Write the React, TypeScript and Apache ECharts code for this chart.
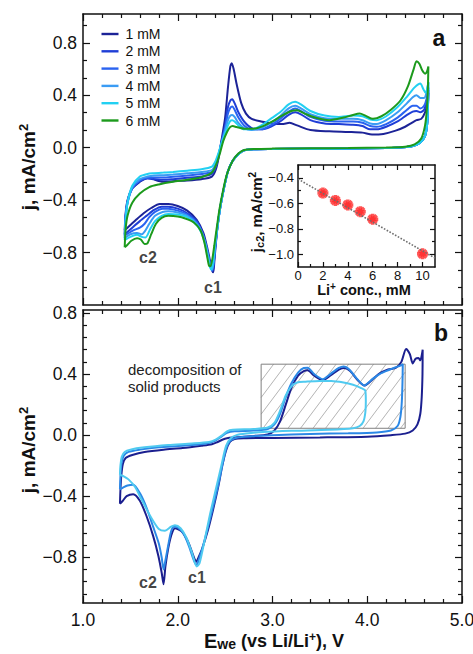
import React, { useEffect, useRef } from 'react';
import * as echarts from 'echarts';

// ---------- Panel a: CV curves at increasing Li+ concentration (E / V vs Li/Li+, j / mA cm^-2)
const concLabels = ['1 mM', '2 mM', '3 mM', '4 mM', '5 mM', '6 mM'];
const concColors = ['#1c2397', '#1f3ed6', '#2a63f0', '#3a9cf4', '#22d0f2', '#1c9a1c'];

const a1Anodic = [[1.44,-0.63],[1.45,-0.5],[1.47,-0.4],[1.52,-0.31],[1.6,-0.26],[1.66,-0.235],[1.71,-0.225],[1.76,-0.245],[1.85,-0.26],[1.95,-0.255],[2.1,-0.25],[2.25,-0.24],[2.36,-0.22],[2.4,-0.17],[2.43,-0.08],[2.46,0.05],[2.5,0.23],[2.53,0.46],[2.555,0.62],[2.57,0.645],[2.59,0.6],[2.62,0.49],[2.67,0.34],[2.72,0.26],[2.78,0.22],[2.88,0.2],[3.0,0.185],[3.1,0.18],[3.18,0.19],[3.26,0.17],[3.4,0.135],[3.6,0.125],[3.8,0.12],[3.95,0.115],[4.05,0.1],[4.17,0.105],[4.3,0.13],[4.4,0.16],[4.47,0.19],[4.52,0.21],[4.57,0.22],[4.61,0.27],[4.63,0.33],[4.645,0.42]];
const a2Anodic = [[1.44,-0.66],[1.45,-0.52],[1.47,-0.41],[1.52,-0.31],[1.6,-0.255],[1.68,-0.235],[1.75,-0.24],[1.85,-0.245],[1.95,-0.24],[2.1,-0.23],[2.25,-0.22],[2.36,-0.2],[2.4,-0.15],[2.43,-0.07],[2.46,0.04],[2.5,0.17],[2.53,0.31],[2.555,0.36],[2.575,0.37],[2.6,0.34],[2.64,0.27],[2.7,0.2],[2.78,0.15],[2.88,0.14],[2.98,0.16],[3.08,0.2],[3.17,0.25],[3.24,0.27],[3.3,0.255],[3.4,0.21],[3.55,0.185],[3.7,0.18],[3.85,0.175],[3.95,0.165],[4.03,0.14],[4.1,0.14],[4.2,0.16],[4.32,0.2],[4.42,0.25],[4.48,0.275],[4.52,0.28],[4.56,0.27],[4.6,0.29],[4.625,0.35],[4.645,0.44]];
const a3Anodic = [[1.44,-0.67],[1.45,-0.53],[1.47,-0.42],[1.52,-0.31],[1.6,-0.25],[1.68,-0.23],[1.75,-0.228],[1.85,-0.228],[1.95,-0.222],[2.1,-0.212],[2.25,-0.2],[2.36,-0.185],[2.4,-0.14],[2.43,-0.06],[2.46,0.03],[2.5,0.15],[2.53,0.26],[2.555,0.305],[2.575,0.315],[2.6,0.29],[2.64,0.23],[2.7,0.17],[2.78,0.14],[2.88,0.14],[2.98,0.17],[3.08,0.22],[3.17,0.275],[3.24,0.3],[3.3,0.28],[3.4,0.235],[3.55,0.205],[3.7,0.2],[3.85,0.2],[3.95,0.19],[4.03,0.165],[4.1,0.16],[4.2,0.18],[4.32,0.23],[4.42,0.29],[4.48,0.32],[4.52,0.32],[4.56,0.3],[4.6,0.32],[4.625,0.37],[4.645,0.46]];
const a4Anodic = [[1.44,-0.69],[1.45,-0.54],[1.47,-0.42],[1.52,-0.3],[1.6,-0.24],[1.68,-0.22],[1.75,-0.212],[1.85,-0.21],[1.95,-0.205],[2.1,-0.195],[2.25,-0.185],[2.36,-0.17],[2.4,-0.12],[2.43,-0.05],[2.46,0.03],[2.5,0.13],[2.53,0.21],[2.555,0.245],[2.575,0.25],[2.6,0.235],[2.64,0.19],[2.7,0.15],[2.78,0.135],[2.88,0.15],[2.98,0.19],[3.08,0.24],[3.17,0.3],[3.24,0.32],[3.3,0.3],[3.4,0.255],[3.55,0.225],[3.7,0.22],[3.85,0.22],[3.95,0.21],[4.03,0.185],[4.1,0.18],[4.2,0.21],[4.32,0.27],[4.42,0.34],[4.48,0.385],[4.52,0.4],[4.56,0.38],[4.6,0.38],[4.625,0.42],[4.645,0.5]];
const a5Anodic = [[1.44,-0.705],[1.45,-0.55],[1.47,-0.42],[1.52,-0.29],[1.6,-0.22],[1.68,-0.2],[1.75,-0.195],[1.85,-0.19],[1.95,-0.185],[2.1,-0.175],[2.25,-0.165],[2.36,-0.145],[2.4,-0.1],[2.43,-0.04],[2.46,0.03],[2.5,0.11],[2.53,0.17],[2.555,0.205],[2.575,0.21],[2.6,0.2],[2.64,0.17],[2.7,0.14],[2.78,0.14],[2.88,0.17],[2.98,0.22],[3.08,0.27],[3.17,0.33],[3.24,0.35],[3.3,0.33],[3.4,0.28],[3.55,0.245],[3.7,0.235],[3.85,0.245],[3.95,0.24],[4.03,0.215],[4.1,0.21],[4.2,0.24],[4.32,0.31],[4.42,0.39],[4.5,0.46],[4.56,0.49],[4.59,0.45],[4.615,0.42],[4.63,0.44],[4.645,0.5]];
const a6Anodic = [[1.44,-0.76],[1.45,-0.62],[1.47,-0.52],[1.52,-0.42],[1.6,-0.35],[1.7,-0.3],[1.8,-0.28],[1.95,-0.26],[2.1,-0.245],[2.25,-0.225],[2.36,-0.19],[2.41,-0.12],[2.45,-0.03],[2.48,0.05],[2.52,0.12],[2.55,0.155],[2.58,0.165],[2.62,0.158],[2.7,0.145],[2.8,0.145],[2.9,0.165],[3.0,0.2],[3.1,0.245],[3.2,0.28],[3.26,0.285],[3.34,0.26],[3.45,0.23],[3.6,0.21],[3.75,0.23],[3.85,0.25],[3.92,0.26],[3.98,0.245],[4.06,0.22],[4.15,0.24],[4.25,0.29],[4.35,0.36],[4.43,0.47],[4.49,0.6],[4.52,0.66],[4.55,0.64],[4.58,0.59],[4.61,0.565],[4.63,0.58],[4.645,0.62]];

// return sweep from the upper vertex (shared by 1-5 mM down to the c1 onset)
const aReturnBlue = [[4.64,0.3],[4.632,0.18],[4.61,0.09],[4.56,0.04],[4.49,0.015],[4.38,0.003],[4.2,-0.003],[3.8,-0.006],[3.4,-0.008],[3.0,-0.01],[2.8,-0.012],[2.7,-0.02],[2.64,-0.05],[2.58,-0.1],[2.53,-0.18],[2.49,-0.3],[2.45,-0.45],[2.42,-0.6]];
const a1Tail = [[2.4,-0.75],[2.385,-0.88],[2.375,-0.95],[2.36,-0.93],[2.34,-0.86],[2.31,-0.76],[2.27,-0.65],[2.2,-0.55],[2.1,-0.48],[2.0,-0.445],[1.9,-0.43],[1.81,-0.43],[1.72,-0.46],[1.64,-0.5],[1.56,-0.55],[1.5,-0.59],[1.44,-0.63]];
const a2Tail = [[2.398,-0.75],[2.382,-0.87],[2.368,-0.94],[2.352,-0.92],[2.33,-0.85],[2.3,-0.75],[2.26,-0.65],[2.2,-0.56],[2.1,-0.5],[2.0,-0.465],[1.9,-0.45],[1.83,-0.45],[1.75,-0.475],[1.67,-0.52],[1.6,-0.56],[1.52,-0.61],[1.44,-0.66]];
const a3Tail = [[2.396,-0.75],[2.38,-0.87],[2.365,-0.935],[2.35,-0.915],[2.33,-0.85],[2.3,-0.75],[2.26,-0.65],[2.2,-0.57],[2.1,-0.51],[2.0,-0.48],[1.9,-0.465],[1.84,-0.465],[1.76,-0.49],[1.7,-0.53],[1.65,-0.58],[1.6,-0.61],[1.53,-0.63],[1.44,-0.67]];
const a4Tail = [[2.394,-0.75],[2.378,-0.87],[2.36,-0.93],[2.345,-0.91],[2.325,-0.84],[2.295,-0.74],[2.255,-0.65],[2.2,-0.58],[2.1,-0.52],[2.0,-0.495],[1.9,-0.485],[1.84,-0.49],[1.76,-0.52],[1.7,-0.58],[1.65,-0.64],[1.62,-0.66],[1.57,-0.65],[1.5,-0.66],[1.44,-0.69]];
const a5Tail = [[2.392,-0.75],[2.375,-0.87],[2.355,-0.93],[2.34,-0.91],[2.32,-0.84],[2.29,-0.74],[2.25,-0.65],[2.2,-0.59],[2.1,-0.53],[2.0,-0.51],[1.9,-0.505],[1.83,-0.52],[1.76,-0.56],[1.71,-0.62],[1.66,-0.685],[1.62,-0.68],[1.57,-0.665],[1.5,-0.68],[1.44,-0.705]];
const a6Return = [[4.64,0.45],[4.63,0.3],[4.61,0.17],[4.57,0.07],[4.5,0.025],[4.4,0.008],[4.2,0.002],[3.8,-0.003],[3.4,-0.005],[3.0,-0.007],[2.8,-0.01],[2.7,-0.018],[2.64,-0.045],[2.58,-0.1],[2.52,-0.2],[2.48,-0.32],[2.44,-0.47],[2.41,-0.62],[2.385,-0.75],[2.365,-0.85],[2.345,-0.905],[2.33,-0.9],[2.31,-0.83],[2.28,-0.72],[2.24,-0.63],[2.17,-0.57],[2.08,-0.54],[2.0,-0.525],[1.9,-0.52],[1.83,-0.535],[1.77,-0.58],[1.72,-0.66],[1.68,-0.73],[1.65,-0.735],[1.61,-0.7],[1.57,-0.69],[1.51,-0.71],[1.47,-0.74],[1.44,-0.76]];

// ---------- Panel b: three CVs with different upper vertex potentials
const bLabels = ['to 4.6 V', 'to 4.4 V', 'to 4.0 V'];
const bColors = ['#1b1f8f', '#2b88e6', '#4fcaf0'];
const bNavy = [[1.39,-0.45],[1.395,-0.36],[1.405,-0.26],[1.42,-0.19],[1.45,-0.15],[1.52,-0.13],[1.65,-0.11],[1.85,-0.095],[2.05,-0.085],[2.25,-0.07],[2.36,-0.06],[2.42,-0.045],[2.47,-0.03],[2.52,-0.02],[2.6,-0.015],[2.8,-0.005],[2.95,0.005],[3.02,0.03],[3.08,0.09],[3.14,0.2],[3.2,0.31],[3.27,0.39],[3.33,0.42],[3.37,0.425],[3.44,0.39],[3.53,0.36],[3.62,0.395],[3.7,0.43],[3.76,0.44],[3.82,0.42],[3.9,0.36],[3.97,0.325],[4.03,0.35],[4.12,0.4],[4.22,0.43],[4.3,0.44],[4.36,0.48],[4.41,0.565],[4.45,0.53],[4.48,0.47],[4.51,0.5],[4.54,0.505],[4.56,0.49],[4.585,0.56],
  [4.583,0.4],[4.575,0.25],[4.56,0.14],[4.53,0.07],[4.48,0.03],[4.4,0.01],[4.25,0.0],[4.0,-0.01],[3.5,-0.015],[3.0,-0.018],[2.7,-0.02],[2.6,-0.025],[2.55,-0.045],[2.51,-0.1],[2.47,-0.2],[2.43,-0.33],[2.38,-0.47],[2.32,-0.62],[2.26,-0.74],[2.22,-0.8],[2.195,-0.83],[2.17,-0.8],[2.11,-0.7],[2.04,-0.63],[1.97,-0.61],[1.93,-0.66],[1.9,-0.74],[1.87,-0.86],[1.85,-0.977],[1.83,-0.9],[1.795,-0.79],[1.74,-0.66],[1.67,-0.53],[1.6,-0.43],[1.53,-0.387],[1.46,-0.4],[1.42,-0.43],[1.39,-0.45]];
const bBlue = [[1.39,-0.355],[1.395,-0.27],[1.405,-0.19],[1.43,-0.135],[1.48,-0.11],[1.6,-0.095],[1.8,-0.08],[2.05,-0.07],[2.3,-0.055],[2.4,-0.035],[2.46,-0.01],[2.52,0.015],[2.6,0.025],[2.8,0.03],[2.95,0.04],[3.02,0.07],[3.08,0.14],[3.14,0.25],[3.2,0.34],[3.27,0.41],[3.33,0.44],[3.37,0.442],[3.44,0.4],[3.53,0.367],[3.62,0.405],[3.7,0.44],[3.75,0.45],[3.81,0.43],[3.89,0.37],[3.97,0.325],[4.04,0.36],[4.13,0.4],[4.22,0.425],[4.3,0.445],[4.35,0.455],[4.375,0.465],
  [4.372,0.35],[4.365,0.22],[4.35,0.12],[4.32,0.06],[4.25,0.03],[4.1,0.018],[3.8,0.012],[3.4,0.008],[3.0,0.0],[2.7,-0.01],[2.6,-0.02],[2.55,-0.04],[2.51,-0.09],[2.47,-0.2],[2.43,-0.32],[2.38,-0.45],[2.32,-0.6],[2.26,-0.74],[2.22,-0.82],[2.2,-0.85],[2.17,-0.82],[2.12,-0.73],[2.06,-0.645],[2.0,-0.605],[1.96,-0.6],[1.93,-0.63],[1.9,-0.72],[1.87,-0.82],[1.85,-0.88],[1.83,-0.8],[1.8,-0.71],[1.74,-0.6],[1.67,-0.475],[1.6,-0.38],[1.53,-0.325],[1.47,-0.33],[1.42,-0.345],[1.39,-0.355]];
const bCyan = [[1.39,-0.26],[1.395,-0.2],[1.41,-0.14],[1.44,-0.11],[1.5,-0.095],[1.65,-0.08],[1.9,-0.065],[2.15,-0.055],[2.33,-0.045],[2.4,-0.03],[2.46,-0.005],[2.52,0.025],[2.58,0.035],[2.8,0.04],[2.95,0.05],[3.02,0.08],[3.08,0.16],[3.14,0.26],[3.2,0.32],[3.26,0.345],[3.35,0.35],[3.5,0.355],[3.62,0.355],[3.75,0.345],[3.85,0.33],[3.93,0.31],[3.98,0.29],
  [3.985,0.22],[3.98,0.15],[3.96,0.09],[3.92,0.06],[3.85,0.045],[3.6,0.035],[3.2,0.028],[2.9,0.02],[2.72,0.01],[2.62,0.0],[2.56,-0.02],[2.51,-0.07],[2.46,-0.2],[2.4,-0.36],[2.34,-0.52],[2.28,-0.7],[2.23,-0.84],[2.2,-0.86],[2.15,-0.77],[2.09,-0.67],[2.03,-0.61],[1.97,-0.59],[1.93,-0.6],[1.865,-0.627],[1.8,-0.615],[1.71,-0.53],[1.6,-0.4],[1.55,-0.34],[1.48,-0.29],[1.43,-0.27],[1.39,-0.26]];
const decompBox = [2.88, 0.045, 4.4, 0.465];

// ---------- Inset: c2 peak current vs Li+ concentration
const insetConc = [2, 3, 4, 5, 6, 10];
const insetJc2 = [-0.52, -0.578, -0.613, -0.666, -0.725, -0.997];
const insetFit = [[0, -0.41], [11, -1.03]];

// ---------- Tick labels
const eTicks = [1, 2, 3, 4, 5];
const jTicksA = [-0.8, -0.4, 0, 0.4, 0.8];
const jTicksB = [-0.8, -0.4, 0, 0.4, 0.8];
const insetXTicks = [0, 2, 4, 6, 8, 10];
const insetYTicks = [-1.0, -0.8, -0.6, -0.4];

const peakTagsA = [{ name: 'c2', value: [1.686, -0.84] }, { name: 'c1', value: [2.372, -1.07] }];
const peakTagsB = [{ name: 'c2', value: [1.686, -0.966] }, { name: 'c1', value: [2.203, -0.933] }];

const FONT = "'Liberation Sans', Arial, Helvetica, sans-serif";
const INK = '#111111';

function seq(a: number, b: number, step: number) {
  const out: number[] = [];
  const n = Math.round((b - a) / step);
  for (let i = 0; i <= n; i++) out.push(+(a + i * step).toFixed(6));
  return out;
}
function minorOf(all: number[], majors: number[], lo: number, hi: number) {
  return all.filter((v) => v > lo + 1e-6 && v < hi - 1e-6 && !majors.some((m) => Math.abs(m - v) < 1e-6));
}
function fmt(v: number, d: number) {
  const s = Math.abs(v) < 1e-9 ? (0).toFixed(d) : v.toFixed(d);
  return s.replace('-', '\u2212');
}

type Spec = {
  grid: number; xr: [number, number]; yr: [number, number];
  xMajor: number[]; xMinor: number[]; yMajor: number[]; yMinor: number[];
  xLabels: boolean; yLabels: boolean; xDec: number; yDec: number;
  majLen: number; minLen: number; font: number; xMargin: number; yMargin: number;
};

function buildFrame(s: Spec, xAxes: any[], yAxes: any[]) {
  const xi = xAxes.length;
  const yi = yAxes.length;
  const line = { color: INK, width: 1.5 };
  const tl = { color: INK, width: 1.2 };
  const lab = (show: boolean, vals: number[], dec: number, margin: number) =>
    show
      ? { show: true, customValues: vals, formatter: (v: number) => fmt(v, dec), margin, fontSize: s.font, fontFamily: FONT, color: INK }
      : { show: false };
  (['bottom', 'top'] as const).forEach((pos) => {
    const base = { gridIndex: s.grid, type: 'value', position: pos, min: s.xr[0], max: s.xr[1], splitLine: { show: false } };
    xAxes.push({ ...base, axisLine: { show: true, onZero: false, lineStyle: line },
      axisTick: { show: true, inside: true, length: s.majLen, customValues: s.xMajor, lineStyle: tl },
      axisLabel: lab(pos === 'bottom' && s.xLabels, s.xMajor, s.xDec, s.xMargin) });
    xAxes.push({ ...base, axisLine: { show: false, onZero: false },
      axisTick: { show: true, inside: true, length: s.minLen, customValues: s.xMinor, lineStyle: tl },
      axisLabel: { show: false } });
  });
  (['left', 'right'] as const).forEach((pos) => {
    const base = { gridIndex: s.grid, type: 'value', position: pos, min: s.yr[0], max: s.yr[1], splitLine: { show: false } };
    yAxes.push({ ...base, axisLine: { show: true, onZero: false, lineStyle: line },
      axisTick: { show: true, inside: true, length: s.majLen, customValues: s.yMajor, lineStyle: tl },
      axisLabel: lab(pos === 'left' && s.yLabels, s.yMajor, s.yDec, s.yMargin) });
    yAxes.push({ ...base, axisLine: { show: false, onZero: false },
      axisTick: { show: true, inside: true, length: s.minLen, customValues: s.yMinor, lineStyle: tl },
      axisLabel: { show: false } });
  });
  return { xi, yi };
}

function buildOption() {
  const xAxes: any[] = [];
  const yAxes: any[] = [];
  const xMinorMain = minorOf(seq(1, 5, 0.2), eTicks, 1, 5);
  const A = buildFrame({
    grid: 0, xr: [1, 5], yr: [-1.2, 1.02], xMajor: eTicks, xMinor: xMinorMain,
    yMajor: jTicksA, yMinor: minorOf(seq(-1.2, 1.2, 0.4 / 3), jTicksA, -1.2, 1.02),
    xLabels: false, yLabels: true, xDec: 1, yDec: 1, majLen: 7, minLen: 4, font: 17.5, xMargin: 8, yMargin: 6,
  }, xAxes, yAxes);
  const B = buildFrame({
    grid: 1, xr: [1, 5], yr: [-1.1, 0.82], xMajor: eTicks, xMinor: xMinorMain,
    yMajor: jTicksB, yMinor: minorOf(seq(-1.2, 0.8, 0.08), jTicksB, -1.1, 0.82),
    xLabels: true, yLabels: true, xDec: 1, yDec: 1, majLen: 7, minLen: 4, font: 17.5, xMargin: 8, yMargin: 6,
  }, xAxes, yAxes);
  const I = buildFrame({
    grid: 2, xr: [0, 11], yr: [-1.1, -0.3], xMajor: insetXTicks, xMinor: [1, 3, 5, 7, 9],
    yMajor: insetYTicks, yMinor: [-0.9, -0.7, -0.5],
    xLabels: true, yLabels: true, xDec: 0, yDec: 1, majLen: 5, minLen: 3, font: 13, xMargin: 2, yMargin: 4,
  }, xAxes, yAxes);

  const aCurves = [
    [...a1Anodic, ...aReturnBlue, ...a1Tail],
    [...a2Anodic, ...aReturnBlue, ...a2Tail],
    [...a3Anodic, ...aReturnBlue, ...a3Tail],
    [...a4Anodic, ...aReturnBlue, ...a4Tail],
    [...a5Anodic, ...aReturnBlue, ...a5Tail],
    [...a6Anodic, ...a6Return],
  ];
  const bCurves = [bNavy, bBlue, bCyan];

  const tagSeries = (ax: { xi: number; yi: number }, data: any[]) => ({
    type: 'scatter', xAxisIndex: ax.xi, yAxisIndex: ax.yi, data, symbolSize: 1, silent: true, z: 5,
    itemStyle: { color: 'rgba(0,0,0,0)' },
    label: { show: true, position: 'inside', formatter: '{b}', fontSize: 16, fontWeight: 'bold', fontFamily: FONT, color: INK },
  });

  const plusPath = 'path://M-1.6,-5H1.6V-1.6H5V1.6H1.6V5H-1.6V1.6H-5V-1.6H-1.6Z';
  const insetPts = insetConc.map((c, i) => [c, insetJc2[i]]);

  const series: any[] = [
    {
      type: 'custom', xAxisIndex: B.xi, yAxisIndex: B.yi, silent: true, z: 1,
      data: [decompBox], encode: { x: [0, 2], y: [1, 3] },
      renderItem: (_p: any, api: any) => {
        const tl = api.coord([api.value(0), api.value(3)]);
        const br = api.coord([api.value(2), api.value(1)]);
        const x0 = tl[0], y0 = tl[1], x1 = br[0], y1 = br[1];
        const h = y1 - y0;
        const dx = h * 0.75;
        const gap = 12.5;
        const children: any[] = [];
        for (let xs = x0 - dx; xs < x1; xs += gap) {
          const ta = Math.max(0, (x0 - xs) / dx);
          const tb = Math.min(1, (x1 - xs) / dx);
          if (tb <= ta) continue;
          children.push({ type: 'line', shape: { x1: xs + ta * dx, y1: y1 - ta * h, x2: xs + tb * dx, y2: y1 - tb * h },
            style: { stroke: '#b4b4b4', lineWidth: 1 } });
        }
        children.push({ type: 'rect', shape: { x: x0, y: y0, width: x1 - x0, height: h },
          style: { fill: 'rgba(0,0,0,0)', stroke: '#808080', lineWidth: 1 } });
        return { type: 'group', children };
      },
    },
    ...aCurves.map((d, i) => ({
      type: 'line', name: concLabels[i], xAxisIndex: A.xi, yAxisIndex: A.yi, data: d, symbol: 'none',
      smooth: 0.25, silent: true, z: 3, lineStyle: { width: 2, color: concColors[i] }, itemStyle: { color: concColors[i] },
    })),
    ...bCurves.map((d, i) => ({
      type: 'line', name: bLabels[i], xAxisIndex: B.xi, yAxisIndex: B.yi, data: d, symbol: 'none',
      smooth: 0.25, silent: true, z: 3, lineStyle: { width: 2, color: bColors[i] }, itemStyle: { color: bColors[i] },
    })),
    tagSeries(A, peakTagsA),
    tagSeries(B, peakTagsB),
    {
      type: 'line', xAxisIndex: I.xi, yAxisIndex: I.yi, data: insetFit, symbol: 'none', silent: true,
      lineStyle: { type: 'dotted', color: '#6e6e6e', width: 1.6 },
    },
    { type: 'scatter', xAxisIndex: I.xi, yAxisIndex: I.yi, data: insetPts, symbol: plusPath, symbolSize: 11, silent: true, itemStyle: { color: '#ff2a2a' } },
    { type: 'scatter', xAxisIndex: I.xi, yAxisIndex: I.yi, data: insetPts, symbol: plusPath, symbolSize: 11, symbolRotate: 45, silent: true, itemStyle: { color: '#ff2a2a' } },
  ];

  const bold = (size: number, extra: any = {}) => ({ fontSize: size, fontWeight: 'bold', fontFamily: FONT, fill: INK, ...extra });

  const graphic: any[] = [
    { type: 'text', x: 439, y: 38, style: { text: 'a', ...bold(23), align: 'center', verticalAlign: 'middle' } },
    { type: 'text', x: 441, y: 333, style: { text: 'b', ...bold(23), align: 'center', verticalAlign: 'middle' } },
    { type: 'text', x: 128, y: 360.5, style: { text: 'decomposition of\nsolid products', fontSize: 15, fontFamily: FONT, fill: '#222', lineHeight: 17, align: 'left', verticalAlign: 'top' } },
    {
      type: 'text', x: 28, y: 167, rotation: Math.PI / 2,
      style: { text: '{t|j, mA/cm}{s|2}', align: 'center', verticalAlign: 'middle', fill: INK,
        rich: { t: bold(19, { lineHeight: 22 }), s: bold(13, { lineHeight: 11, verticalAlign: 'top' }) } },
    },
    {
      type: 'text', x: 28, y: 450, rotation: Math.PI / 2,
      style: { text: '{t|j, mA/cm}{s|2}', align: 'center', verticalAlign: 'middle', fill: INK,
        rich: { t: bold(19, { lineHeight: 22 }), s: bold(13, { lineHeight: 11, verticalAlign: 'top' }) } },
    },
    {
      type: 'text', x: 274, y: 641,
      style: { text: '{e|E}{w|we}{t| (vs Li/Li}{s|+}{t|), V}', align: 'center', verticalAlign: 'middle', fill: INK,
        rich: {
          e: bold(20, { lineHeight: 20 }), w: bold(14, { lineHeight: 8, verticalAlign: 'bottom' }),
          t: bold(18, { lineHeight: 20 }), s: bold(12, { lineHeight: 8, verticalAlign: 'top' }),
        } },
    },
    {
      type: 'text', x: 364, y: 289.5,
      style: { text: '{t|Li}{s|+}{t| conc., mM}', align: 'center', verticalAlign: 'middle', fill: INK,
        rich: { t: bold(14.5, { lineHeight: 16 }), s: bold(10, { lineHeight: 7, verticalAlign: 'top' }) } },
    },
    {
      type: 'text', x: 256, y: 212, rotation: Math.PI / 2,
      style: { text: '{t|j}{b|c2}{t|, mA/cm}{s|2}', align: 'center', verticalAlign: 'middle', fill: INK,
        rich: {
          t: bold(15, { lineHeight: 18 }), b: bold(11, { lineHeight: 8, verticalAlign: 'bottom' }),
          s: bold(10, { lineHeight: 8, verticalAlign: 'top' }),
        } },
    },
  ];

  return {
    animation: false,
    backgroundColor: '#ffffff',
    textStyle: { fontFamily: FONT },
    grid: [
      { left: 83, top: 14, width: 379, height: 291, containLabel: false, outerBoundsMode: 'none' },
      { left: 83, top: 310, width: 379, height: 293, containLabel: false, outerBoundsMode: 'none' },
      { left: 298, top: 165, width: 137, height: 102, containLabel: false, outerBoundsMode: 'none' },
    ],
    legend: {
      show: true, data: concLabels, orient: 'vertical', left: 101.5, top: 27, padding: 0,
      itemWidth: 17, itemHeight: 14, itemGap: 3.3, icon: 'path://M0,0H17V2.4H0Z', selectedMode: false,
      textStyle: { fontSize: 14, lineHeight: 14, fontFamily: FONT, color: INK, padding: [0, 0, 0, 2] },
    },
    xAxis: xAxes,
    yAxis: yAxes,
    series,
    graphic,
  };
}

export default function App() {
  const ref = useRef<HTMLDivElement>(null);
  useEffect(() => {
    document.body.style.margin = '0';
    if (!ref.current) return;
    const chart = echarts.init(ref.current, undefined, { renderer: 'svg' });
    chart.setOption(buildOption() as any);
    return () => chart.dispose();
  }, []);
  return <div ref={ref} style={{ width: 473, height: 654 }} />;
}
